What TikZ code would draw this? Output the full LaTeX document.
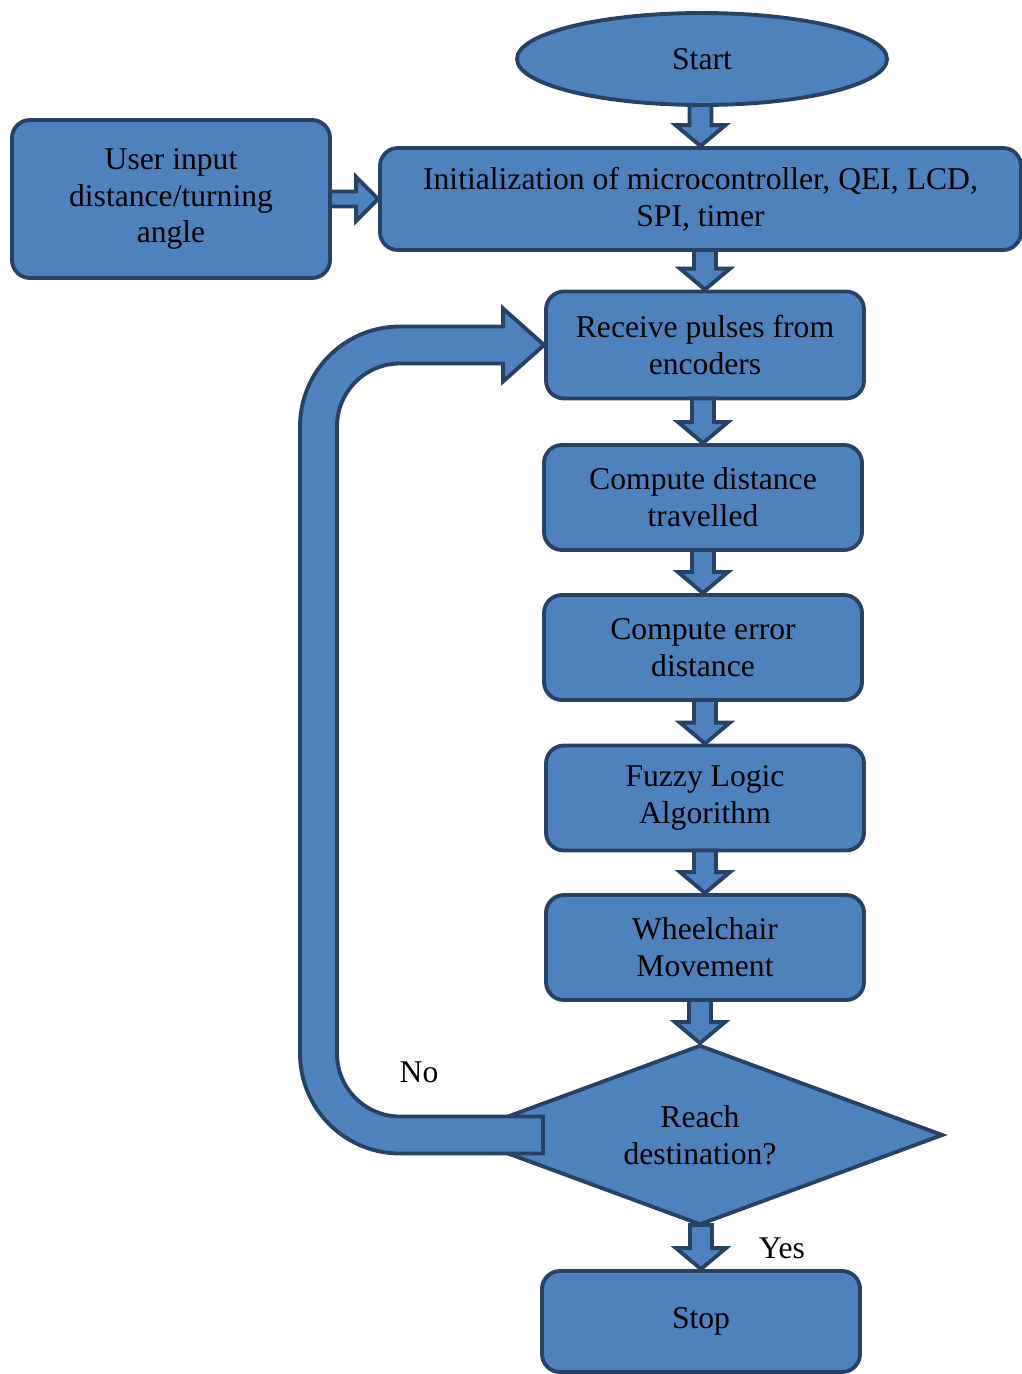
\documentclass[tikz,border=0pt]{standalone}
\usepackage{fontspec}
\setmainfont{Liberation Serif}
\usetikzlibrary{shapes.geometric,calc}
\definecolor{boxfill}{HTML}{4F81BD}
\definecolor{boxline}{RGB}{40,66,102}

\newcommand{\downblock}[2]{%
  \draw[blockarrow] ($(#1.south -| #2.north)+(-0.22,0.04)$) -- ($(#1.south -| #2.north)+(0.22,0.04)$)
    -- ($(#2.north)+(0.22,0.42)$) -- ($(#2.north)+(0.5,0.42)$) -- (#2.north)
    -- ($(#2.north)+(-0.5,0.42)$) -- ($(#2.north)+(-0.22,0.42)$) -- cycle;}
\newcommand{\rightblock}[2]{%
  \draw[blockarrow] ($(#1.east |- #2.west)+(-0.04,0.15)$) -- ($(#2.west)+(-0.44,0.15)$)
    -- ($(#2.west)+(-0.44,0.44)$) -- (#2.west) -- ($(#2.west)+(-0.44,-0.44)$)
    -- ($(#2.west)+(-0.44,-0.15)$) -- ($(#1.east |- #2.west)+(-0.04,-0.15)$) -- cycle;}

\begin{document}
\begin{tikzpicture}[
  every node/.style={font=\fontsize{18}{21}\selectfont},
  flowbox/.style={draw=boxline,fill=boxfill,line width=2.2pt,rounded corners=0.36cm,align=center,
    minimum width=6.36cm,minimum height=2.1cm,inner sep=2pt},
  termnode/.style={ellipse,draw=boxline,fill=boxfill,line width=2.2pt,minimum width=7.4cm,minimum height=1.84cm},
  decision/.style={diamond,draw=boxline,fill=boxfill,line width=2.2pt,aspect=2.7,inner sep=0pt,
    minimum width=9.72cm,minimum height=3.6cm,align=center},
  blockarrow/.style={draw=boxline,fill=boxfill,line width=2.2pt}]
  \useasboundingbox (0,0) rectangle (20.44,-27.48);

  \node[termnode] (start) at (14.04,-1.18) {Start};
  \node[flowbox,minimum width=12.82cm,minimum height=2.04cm] (init) at (14.01,-3.98)
    {Initialization of microcontroller, QEI, LCD,\\SPI, timer};
  \node[flowbox,minimum height=3.16cm] (user) at (3.42,-3.98) {User input\\distance/turning\\angle};
  \node[flowbox,minimum height=2.14cm] (receive) at (14.1,-6.9) {Receive pulses from\\encoders};
  \node[flowbox] (dist) at (14.06,-9.95) {Compute distance\\travelled};
  \node[flowbox] (err) at (14.06,-12.95) {Compute error\\distance};
  \node[flowbox] (fuzzy) at (14.1,-15.96) {Fuzzy Logic\\Algorithm};
  \node[flowbox] (wheel) at (14.1,-18.95) {Wheelchair\\Movement};
  \node[decision] (dec) at (14.0,-22.7) {Reach\\destination?};
  \node[flowbox,minimum height=2.02cm] (stop) at (14.02,-26.43) {Stop};

  \downblock{start}{init}
  \rightblock{user}{init}
  \downblock{init}{receive}
  \downblock{receive}{dist}
  \downblock{dist}{err}
  \downblock{err}{fuzzy}
  \downblock{fuzzy}{wheel}
  \downblock{wheel}{dec}
  \downblock{dec}{stop}

  \coordinate (loopend) at ($(dec.center)+(-3.14,0)$);
  \coordinate (lp) at (6.37,-22.7);
  \draw[blockarrow] ($(loopend)+(0,-0.37)$) -- ($(lp |- loopend)+(1.63,-0.37)$)
    arc[start angle=-90,end angle=-180,radius=2]
    -- ($(lp |- receive.west)+(-0.37,-1.63)$)
    arc[start angle=180,end angle=90,radius=2]
    -- ($(receive.west)+(-0.82,0.37)$) -- ($(receive.west)+(-0.82,0.73)$) -- (receive.west)
    -- ($(receive.west)+(-0.82,-0.73)$) -- ($(receive.west)+(-0.82,-0.37)$)
    -- ($(lp |- receive.west)+(1.63,-0.37)$)
    arc[start angle=90,end angle=180,radius=1.26]
    -- ($(lp |- loopend)+(0.37,1.63)$)
    arc[start angle=180,end angle=270,radius=1.26]
    -- ($(loopend)+(0,0.37)$) -- cycle;

  \node (no) at (8.38,-21.44) {No};
  \node (yes) at (15.64,-24.96) {Yes};
\end{tikzpicture}
\end{document}
